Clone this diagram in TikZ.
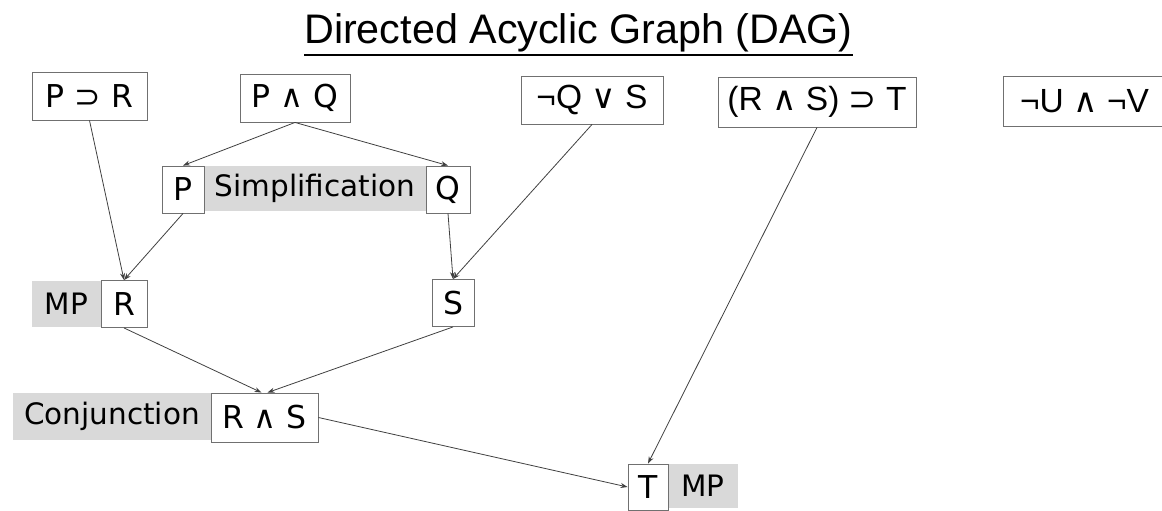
\documentclass[tikz,border=0pt]{standalone}
\usepackage{fontspec}
\setmainfont{DejaVu Sans}
\newfontfamily\arialf{Liberation Sans}
\newfontfamily\dvf{DejaVu Sans}
\usetikzlibrary{arrows.meta}
\definecolor{boxline}{HTML}{707070}
\definecolor{labelgray}{HTML}{D9D9D9}
\definecolor{arrowcol}{HTML}{404040}
\tikzset{
  stmt/.style={draw=boxline, line width=0.9pt, fill=white, inner sep=0pt, font=\fontsize{31.5}{36}\selectfont},
  stmtR/.style={stmt, font=\arialf\fontsize{33.5}{38}\selectfont},
  rulelabel/.style={fill=labelgray, inner sep=0pt, font=\fontsize{29.5}{34}\selectfont},
  link/.style={draw=arrowcol, line width=0.8pt, -{Stealth[length=7pt,width=5pt]}},
}
\begin{document}
\begin{tikzpicture}[x=1pt,y=-1pt]
\useasboundingbox (0,0) rectangle (1162,511);
% title
\node[font=\arialf\fontsize{41.3}{46}\selectfont, inner sep=0pt, anchor=base] (title) at (578.5,44) {Directed Acyclic Graph (DAG)};
\draw[line width=1.8pt] (title.base west |- 0,55) -- (title.base east |- 0,55);
% rule labels
\node[rulelabel, minimum width=222pt, minimum height=45pt] (simp) at (315,188.5) {Simplification};
\node[rulelabel, minimum width=69pt, minimum height=46pt] (mpa) at (66.5,304) {MP};
\node[rulelabel, minimum width=198pt, minimum height=47pt] (conj) at (112,416.5) {Conjunction};
\node[rulelabel, minimum width=70pt, minimum height=44pt] (mpb) at (703,486) {MP};
% statements
\node[stmt, minimum width=115pt, minimum height=48pt] (pr) at (89.5,96) {P ⊃ R};
\node[stmt, minimum width=110pt, minimum height=48pt] (pq) at (295,98) {P ∧ Q};
\node[stmtR, minimum width=142pt, minimum height=48pt] (qs) at (592,100) {¬Q {\dvf∨} S};
\node[stmtR, minimum width=198pt, minimum height=50pt] (rst) at (817,102) {(R {\dvf∧} S) {\dvf⊃} T};
\node[stmtR, minimum width=163pt, minimum height=50pt] (uv) at (1084.5,101) {¬U {\dvf∧} ¬V};
\node[stmt, minimum width=42pt, minimum height=47pt] (p) at (183,189.5) {P};
\node[stmt, minimum width=44pt, minimum height=47pt] (q) at (448,189.5) {Q};
\node[stmt, minimum width=46pt, minimum height=47pt] (r) at (124,304) {R};
\node[stmt, minimum width=42pt, minimum height=47pt] (s) at (453,303) {S};
\node[stmt, minimum width=107pt, minimum height=49pt] (rs) at (264.5,417.5) {R ∧ S};
\node[stmt, minimum width=40pt, minimum height=46pt] (t) at (648,487) {T};
% connectors
\draw[link] (pq.south) -- (p.north);
\draw[link] (pq.south) -- (q.north);
\draw[link] (pr.south) -- (r.north);
\draw[link] (p.south) -- (r.north);
\draw[link] (q.south) -- (s.north);
\draw[link] (qs.south) -- (s.north);
\draw[link] (r.south) -- ([xshift=-3pt]rs.north);
\draw[link] (s.south) -- ([xshift=3pt]rs.north);
\draw[link] (rs.east) -- (t.west);
\draw[link] (rst.south) -- (t.north);
\end{tikzpicture}
\end{document}
